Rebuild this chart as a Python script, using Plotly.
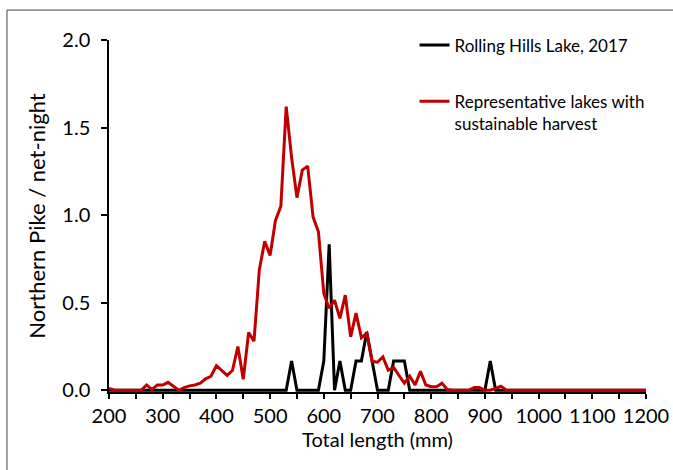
import plotly.graph_objects as go

# Total length bins (mm)
lengths = list(range(200, 1210, 10))

# Representative lakes with sustainable harvest (red)
rep_values = [
    0.01, 0.0, 0.0, 0.0, 0.0, 0.0, 0.0, 0.03, 0.005, 0.03,   # 200-290
    0.03, 0.045, 0.02, 0.0, 0.015, 0.025, 0.03, 0.04, 0.065, 0.08,  # 300-390
    0.14, 0.11, 0.085, 0.114, 0.25, 0.063, 0.33, 0.28, 0.69, 0.85,  # 400-490
    0.77, 0.97, 1.05, 1.62, 1.33, 1.10, 1.257, 1.28, 0.99, 0.905,  # 500-590
    0.553, 0.468, 0.514, 0.41, 0.543, 0.305, 0.44, 0.30, 0.325, 0.165,  # 600-690
    0.16, 0.19, 0.115, 0.13, 0.086, 0.04, 0.08, 0.03, 0.108, 0.03,  # 700-790
    0.02, 0.02, 0.04, 0.005, 0.0, 0.0, 0.0, 0.0, 0.015, 0.015,  # 800-890
    0.0, 0.0, 0.01, 0.023, 0.0, 0.0, 0.0, 0.0, 0.0, 0.0,  # 900-990
    0.0, 0.0, 0.0, 0.0, 0.0, 0.0, 0.0, 0.0, 0.0, 0.0,  # 1000-1090
    0.0, 0.0, 0.0, 0.0, 0.0, 0.0, 0.0, 0.0, 0.0, 0.0,  # 1100-1190
    0.0,  # 1200
]

# Rolling Hills Lake, 2017 (black)
rhl_values = [
    0.0, 0.0, 0.0, 0.0, 0.0, 0.0, 0.0, 0.0, 0.0, 0.0,   # 200-290
    0.0, 0.0, 0.0, 0.0, 0.0, 0.0, 0.0, 0.0, 0.0, 0.0,   # 300-390
    0.0, 0.0, 0.0, 0.0, 0.0, 0.0, 0.0, 0.0, 0.0, 0.0,   # 400-490
    0.0, 0.0, 0.0, 0.0, 0.167, 0.0, 0.0, 0.0, 0.0, 0.0,  # 500-590
    0.167, 0.833, 0.0, 0.167, 0.0, 0.0, 0.167, 0.167, 0.333, 0.167,  # 600-690
    0.0, 0.0, 0.0, 0.167, 0.167, 0.167, 0.0, 0.0, 0.0, 0.0,  # 700-790
    0.0, 0.0, 0.0, 0.0, 0.0, 0.0, 0.0, 0.0, 0.0, 0.0,   # 800-890
    0.0, 0.167, 0.0, 0.0, 0.0, 0.0, 0.0, 0.0, 0.0, 0.0,  # 900-990
    0.0, 0.0, 0.0, 0.0, 0.0, 0.0, 0.0, 0.0, 0.0, 0.0,   # 1000-1090
    0.0, 0.0, 0.0, 0.0, 0.0, 0.0, 0.0, 0.0, 0.0, 0.0,   # 1100-1190
    0.0,  # 1200
]

y_ticks = [0.0, 0.5, 1.0, 1.5, 2.0]
x_ticks = list(range(200, 1300, 100))

FONT = "Lato"
TICK_SIZE = 20
XTITLE_SIZE = 20
YTITLE_SIZE = 22
LEG_SIZE = 17

fig = go.Figure()
fig.add_trace(go.Scatter(
    x=lengths, y=rhl_values, mode="lines",
    name="Rolling Hills Lake, 2017",
    line=dict(color="#000000", width=3),
    legend="legend",
))
fig.add_trace(go.Scatter(
    x=lengths, y=rep_values, mode="lines",
    name="Representative lakes with<br>sustainable harvest",
    line=dict(color="#C00000", width=3),
    legend="legend2",
))

fig.update_layout(
    width=673, height=470,
    margin=dict(l=109, r=27, t=40, b=78, autoexpand=False),
    paper_bgcolor="white", plot_bgcolor="white",
    font=dict(family=FONT, size=TICK_SIZE, color="#000000"),
    showlegend=True,
    legend=dict(x=0.569, y=1.036, xanchor="left", yanchor="top",
                bgcolor="rgba(0,0,0,0)", font=dict(size=LEG_SIZE), valign="top"),
    legend2=dict(x=0.569, y=0.876, xanchor="left", yanchor="top",
                 bgcolor="rgba(0,0,0,0)", font=dict(size=LEG_SIZE), valign="top"),
    xaxis=dict(
        range=[200, 1200], tickvals=x_ticks, automargin=False,
        showline=True, linecolor="#000000", linewidth=1.5,
        ticks="outside", ticklen=5, tickwidth=1.5, tickcolor="#000000",
        minor=dict(dtick=50, tick0=200, ticks="outside", ticklen=5, tickwidth=1.5, tickcolor="#000000"),
        showgrid=False, zeroline=False,
        title=dict(text="Total length (mm)", font=dict(size=XTITLE_SIZE), standoff=7),
        tickfont=dict(size=TICK_SIZE),
    ),
    yaxis=dict(
        range=[-0.01, 2.0], tickvals=y_ticks, tickformat=".1f", automargin=False,
        showline=True, linecolor="#000000", linewidth=1.5,
        ticks="outside", ticklen=6, tickwidth=1.5, tickcolor="#000000",
        showgrid=False, zeroline=False,
        title=dict(text="Northern Pike / net-night", font=dict(size=YTITLE_SIZE), standoff=11),
        tickfont=dict(size=TICK_SIZE),
        ticklabelstandoff=7,
    ),
    shapes=[dict(type="rect", xref="paper", yref="paper",
                 x0=-0.19, x1=1.2, y0=-0.4, y1=1.085,
                 line=dict(color="#444444", width=1), fillcolor="rgba(0,0,0,0)",
                 layer="below")],
)

fig.write_html("out.html", config={"displayModeBar": False},
               post_script="document.body.style.margin='0';")
